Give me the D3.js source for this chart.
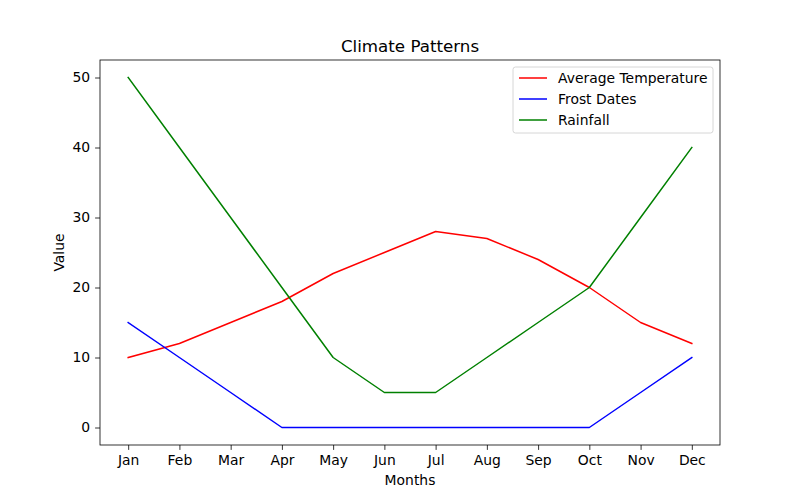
<!DOCTYPE html>
<html><head><meta charset="utf-8">
<script src="https://cdn.jsdelivr.net/npm/d3@7"></script>
<style>body{margin:0;background:#fff}svg{display:block}text{font-family:"DejaVu Sans",sans-serif;fill:#000}</style>
</head><body><svg id="c" width="800" height="500"></svg>
<script>
const months = ["Jan","Feb","Mar","Apr","May","Jun","Jul","Aug","Sep","Oct","Nov","Dec"];
const avgTemp = [10,12,15,18,22,25,28,27,24,20,15,12];
const frost = [15,10,5,0,0,0,0,0,0,0,5,10];
const rainfall = [50,40,30,20,10,5,5,10,15,20,30,40];
const yTicks = [0,10,20,30,40,50];
const seriesNames = ["Average Temperature","Frost Dates","Rainfall"];
const seriesColors = ["#ff0000","#0000ff","#008000"];
const series = [avgTemp, frost, rainfall];

const svg = d3.select("#c");
const L=100,R=720,T=60,B=445;
const x = d3.scaleLinear().domain([-0.55,11.55]).range([L,R]);
const y = d3.scaleLinear().domain([-2.5,52.5]).range([B,T]);

const line = d3.line().x((d,i)=>x(i)).y(d=>y(d));
series.forEach((s,k)=>{
  svg.append("path").datum(s).attr("d",line).attr("fill","none")
    .attr("stroke",seriesColors[k]).attr("stroke-width",1.5).attr("stroke-linejoin","round").attr("stroke-linecap","square");
});

const xa = svg.append("g").attr("transform",`translate(0,${B})`)
  .call(d3.axisBottom(x).tickValues(d3.range(12)).tickFormat(i=>months[i]).tickSize(4.9).tickPadding(5.5));
const ya = svg.append("g").attr("transform",`translate(${L},0)`)
  .call(d3.axisLeft(y).tickValues(yTicks).tickSize(4.9).tickPadding(5));
[xa,ya].forEach(a=>{a.select(".domain").remove();a.selectAll("text").style("font-size","13.9px").style("font-family","DejaVu Sans");a.selectAll("line").attr("stroke","#000").attr("stroke-width",0.8);});
svg.append("rect").attr("x",L).attr("y",T).attr("width",R-L).attr("height",B-T).attr("fill","none").attr("stroke","#000").attr("stroke-width",0.8);

svg.append("text").attr("x",(L+R)/2).attr("y",T-8).attr("text-anchor","middle").style("font-size","16.7px").text("Climate Patterns");
svg.append("text").attr("x",(L+R)/2).attr("y",485).attr("text-anchor","middle").style("font-size","13.9px").text("Months");
svg.append("text").attr("transform",`translate(64,${(T+B)/2}) rotate(-90)`).attr("text-anchor","middle").style("font-size","13.9px").text("Value");

const lg = svg.append("g");
lg.append("rect").attr("x",513).attr("y",67).attr("width",200).attr("height",66).attr("rx",2.5)
  .attr("fill","#fff").attr("fill-opacity",0.8).attr("stroke","#cccccc").attr("stroke-width",0.8);
seriesNames.forEach((n,k)=>{
  const yy = 78 + k*21;
  lg.append("line").attr("x1",519).attr("x2",547).attr("y1",yy).attr("y2",yy).attr("stroke",seriesColors[k]).attr("stroke-width",1.5);
  lg.append("text").attr("x",558).attr("y",yy+5).style("font-size","13.9px").text(n);
});
</script></body></html>
